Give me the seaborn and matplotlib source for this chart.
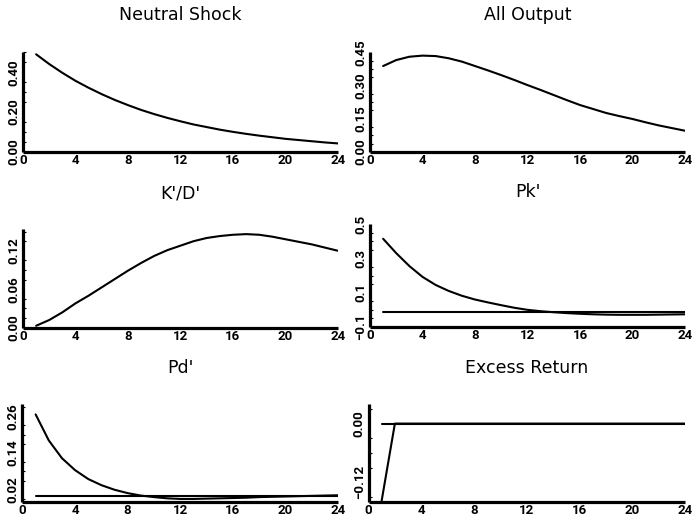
import numpy as np
import pandas as pd
import seaborn as sns
import matplotlib
matplotlib.use("Agg")
import matplotlib.pyplot as plt
from matplotlib.ticker import AutoMinorLocator, FixedLocator

sns.set_theme(style="white")
plt.rcParams['font.family'] = ['DejaVu Sans']

# ---------------- data ----------------
periods = list(range(1, 25))

neutral_shock = [0.490, 0.441, 0.397, 0.357, 0.322, 0.290, 0.261, 0.235, 0.211, 0.190,
                 0.171, 0.154, 0.138, 0.125, 0.112, 0.101, 0.091, 0.082, 0.074, 0.066,
                 0.060, 0.054, 0.048, 0.043]

all_output = [0.388, 0.415, 0.430, 0.435, 0.433, 0.423, 0.408, 0.388, 0.368, 0.347,
              0.325, 0.302, 0.280, 0.257, 0.234, 0.212, 0.194, 0.176, 0.162, 0.149,
              0.134, 0.120, 0.108, 0.096]

kd_ratio = [0.003, 0.012, 0.024, 0.038, 0.050, 0.063, 0.076, 0.089, 0.101, 0.112,
            0.121, 0.128, 0.135, 0.140, 0.143, 0.145, 0.146, 0.145, 0.142, 0.138,
            0.134, 0.130, 0.125, 0.120]

pk_a = [0.414, 0.330, 0.255, 0.192, 0.145, 0.110, 0.082, 0.060, 0.043, 0.027,
        0.012, 0.000, -0.008, -0.014, -0.019, -0.023, -0.026, -0.028, -0.029, -0.029,
        -0.029, -0.028, -0.027, -0.026]
pk_b = [-0.012] * 24

pd_a = [0.266, 0.181, 0.123, 0.084, 0.055, 0.035, 0.020, 0.009, 0.001, -0.004,
        -0.008, -0.010, -0.010, -0.009, -0.008, -0.007, -0.006, -0.004, -0.003, -0.002,
        -0.001, 0.000, 0.001, 0.002]
pd_b = [0.0] * 24

excess_a = [-0.157] + [0.0] * 23
excess_b = [0.0] * 24

titles = ["Neutral Shock", "All Output", "K'/D'", "Pk'", "Pd'", "Excess Return"]
series = [[neutral_shock], [all_output], [kd_ratio], [pk_a, pk_b], [pd_a, pd_b],
          [excess_a, excess_b]]
ylims = [(0, 0.5), (0, 0.45), (0, 0.154), (-0.1, 0.5), (-0.02, 0.30), (-0.16, 0.04)]
yticks = [[0.0, 0.2, 0.4], [0.0, 0.15, 0.30, 0.45], [0.0, 0.06, 0.12],
          [-0.1, 0.1, 0.3, 0.5], [0.02, 0.14, 0.26], [-0.12, 0.0]]
ytick_labels = [["0.00", "0.20", "0.40"], ["0.00", "0.15", "0.30", "0.45"],
                ["0.00", "0.06", "0.12"], ["\u22120.1", "0.1", "0.3", "0.5"],
                ["0.02", "0.14", "0.26"], ["\u22120.12", "0.00"]]
xticks = [0, 4, 8, 12, 16, 20, 24]

# ---------------- layout (pixel boxes: left, right, top, bottom) ----------------
W, H = 693, 518
boxes = [(23, 338, 52.3, 152), (370, 685, 52.3, 152),
         (23, 338, 229, 327.7), (370, 685, 224, 327),
         (22.5, 338, 404, 502), (368.5, 685, 404, 502)]
title_y = [15, 15, 193, 192, 368, 368]

fig = plt.figure(figsize=(W / 100, H / 100), dpi=100)
fig.patch.set_facecolor("white")

tick_font = dict(family=['Roboto', 'DejaVu Sans'], weight='bold', size=9.5)

for i in range(6):
    l, r, t, b = boxes[i]
    ax = fig.add_axes([l / W, 1 - b / H, (r - l) / W, (b - t) / H])
    ax.set_facecolor("white")
    rows = []
    for k, s in enumerate(series[i]):
        rows.append(pd.DataFrame({"period": periods, "value": s, "series": f"s{k}"}))
    df = pd.concat(rows, ignore_index=True)
    sns.lineplot(data=df, x="period", y="value", units="series", estimator=None,
                 color="black", linewidth=1.5, ax=ax, legend=False)
    ax.set_xlim(0, 24)
    ax.set_ylim(*ylims[i])
    ax.set_xlabel("")
    ax.set_ylabel("")
    ax.grid(False)
    for side in ("top", "right"):
        ax.spines[side].set_visible(False)
    for side in ("left", "bottom"):
        ax.spines[side].set_linewidth(2.3)
        ax.spines[side].set_color("black")
        ax.spines[side].set_capstyle("butt")
    ax.xaxis.set_major_locator(FixedLocator(xticks))
    ax.set_xticklabels([str(v) for v in xticks], fontdict=tick_font)
    ax.yaxis.set_major_locator(FixedLocator(yticks[i]))
    ax.set_yticklabels(ytick_labels[i], fontdict=tick_font, rotation=90, va="center")
    ax.yaxis.set_minor_locator(AutoMinorLocator(4))
    ax.tick_params(axis="x", which="major", direction="in", length=3, width=1,
                   color="black", pad=1.5, labelcolor="black")
    ax.tick_params(axis="y", which="major", direction="in", length=4, width=1,
                   color="black", pad=2.0, labelcolor="black")
    ax.tick_params(axis="y", which="minor", direction="in", length=2, width=0.8,
                   color="black", left=True)
    fig.text(((l + r) / 2) / W, 1 - title_y[i] / H, titles[i], ha="center", va="center",
             fontsize=12.5, color="black", family=['DejaVu Sans'])

fig.savefig("out.png", dpi=100, facecolor="white")
